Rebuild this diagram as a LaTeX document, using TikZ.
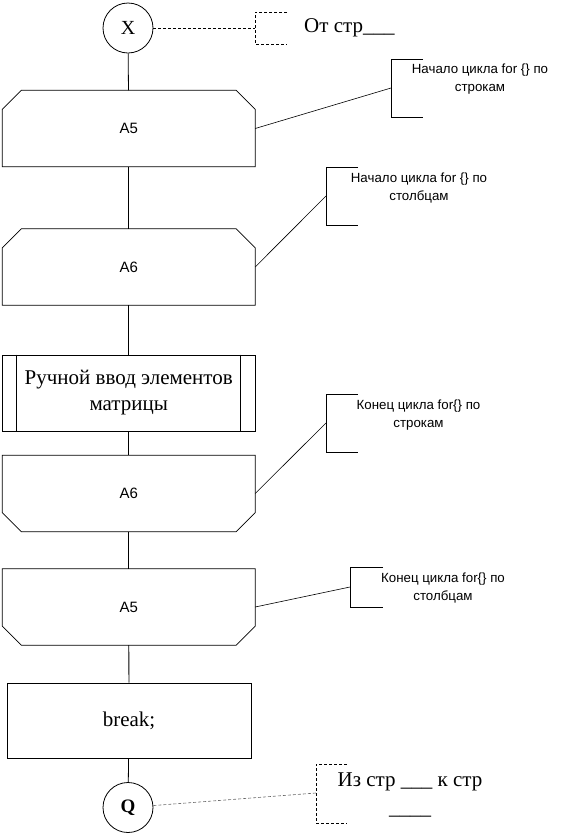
\documentclass[tikz,border=0pt]{standalone}
\usepackage{fontspec}
\setmainfont{Liberation Serif}
\setsansfont{Liberation Sans}
\begin{document}
\begin{tikzpicture}[x=1pt,y=-1pt,
  ln/.style={draw=black, line width=0.8pt},
  thin/.style={draw=black, line width=0.6pt},
  dsh/.style={draw=black, line width=0.6pt, dashed, dash pattern=on 3pt off 2pt},
  circ/.style={circle, draw, line width=0.8pt, minimum size=50pt, inner sep=0pt, font=\fontsize{20}{22}\selectfont},
  blk/.style={rectangle, minimum width=252.5pt, minimum height=76pt, inner sep=0pt, font=\sffamily\fontsize{15}{17}\selectfont},
  proc/.style={rectangle, draw, line width=0.8pt, minimum width=252.5pt, minimum height=76pt, inner sep=0pt, align=center, font=\fontsize{21}{26}\selectfont},
  cmt/.style={align=center, inner sep=0pt, font=\sffamily\fontsize{13.3}{18}\selectfont},
  bigcmt/.style={align=center, inner sep=0pt, font=\fontsize{21}{28}\selectfont}
]
\useasboundingbox (0,0) rectangle (563,836);

% ---- nodes ----
\node[circ] (X) at (128,28) {X};
\node[blk] (a5a) at (128.75,128.5) {A5};
\node[blk] (a6a) at (128.75,267) {A6};
\node[proc] (man) at (128.75,393) {Ручной ввод элементов\\матрицы};
\node[blk] (a6b) at (128.75,493.5) {A6};
\node[blk] (a5b) at (128.75,607) {A5};
\node[proc, minimum width=244pt, minimum height=75pt] (brk) at (129,720.5) {break;};
\node[circ, font=\bfseries\fontsize{19}{21}\selectfont] (Q) at (128,807.5) {Q};

% ---- chamfered loop blocks ----
\draw[ln] (a5a.south west) -- ([yshift=-19pt]a5a.north west) -- ([xshift=19pt]a5a.north west)
  -- ([xshift=-19pt]a5a.north east) -- ([yshift=-19pt]a5a.north east) -- (a5a.south east) -- cycle;
\draw[ln] (a6a.south west) -- ([yshift=-19pt]a6a.north west) -- ([xshift=19pt]a6a.north west)
  -- ([xshift=-19pt]a6a.north east) -- ([yshift=-19pt]a6a.north east) -- (a6a.south east) -- cycle;
\draw[ln] (a6b.north west) -- ([yshift=19pt]a6b.south west) -- ([xshift=19pt]a6b.south west)
  -- ([xshift=-19pt]a6b.south east) -- ([yshift=19pt]a6b.south east) -- (a6b.north east) -- cycle;
\draw[ln] (a5b.north west) -- ([yshift=19pt]a5b.south west) -- ([xshift=19pt]a5b.south west)
  -- ([xshift=-19pt]a5b.south east) -- ([yshift=19pt]a5b.south east) -- (a5b.north east) -- cycle;

% predefined process side bars
\draw[ln] ([xshift=14.5pt]man.north west) -- ([xshift=14.5pt]man.south west);
\draw[ln] ([xshift=-15.5pt]man.north east) -- ([xshift=-15.5pt]man.south east);

% ---- flow lines ----
\draw[ln] (X) -- (a5a);
\draw[ln] (a5a) -- (a6a);
\draw[ln] (a6a) -- (man);
\draw[ln] (man) -- (a6b);
\draw[ln] (a6b) -- (a5b);
\draw[ln] (a5b) -- (brk);
\draw[ln] (brk) -- (Q);

% ---- comments ----
% X
\coordinate (bx) at (255,28);
\draw[dsh] (X) -- (bx);
\draw[dsh] (287,12) -- (255,12) -- (255,44) -- (287,44);
\node[anchor=west, inner sep=0pt, font=\fontsize{21}{24}\selectfont] (tx) at (304,28) {От стр\_\_\_};

% c1
\coordinate (b1) at (391,88);
\draw[thin] (a5a.east) -- (b1);
\draw[ln] (423,59) -- (391,59) -- (391,117) -- (423,117);
\node[cmt] (t1) at (480,79) {Начало цикла for \{\} по\\строкам};

% c2
\coordinate (b2) at (326,196);
\draw[thin] (a6a.east) -- (b2);
\draw[ln] (358,167) -- (326,167) -- (326,225) -- (358,225);
\node[cmt] (t2) at (419,188) {Начало цикла for \{\} по\\столбцам};

% c3
\coordinate (b3) at (326,423);
\draw[thin] (a6b.east) -- (b3);
\draw[ln] (358,394) -- (326,394) -- (326,452) -- (358,452);
\node[cmt] (t3) at (418.5,415) {Конец цикла for\{\} по\\строкам};

% c4
\coordinate (b4) at (350,587);
\draw[thin] (a5b.east) -- (b4);
\draw[ln] (383,567) -- (350,567) -- (350,607) -- (383,607);
\node[cmt] (t4) at (443,588) {Конец цикла for\{\} по\\столбцам};

% Q
\coordinate (bq) at (316,793);
\draw[dsh, draw=black!60] (Q) -- (bq);
\draw[dsh] (347,764) -- (316,764) -- (316,823) -- (347,823);
\node[bigcmt] (tq) at (410,795) {Из стр \_\_\_ к стр\\\_\_\_\_};

\end{tikzpicture}
\end{document}
